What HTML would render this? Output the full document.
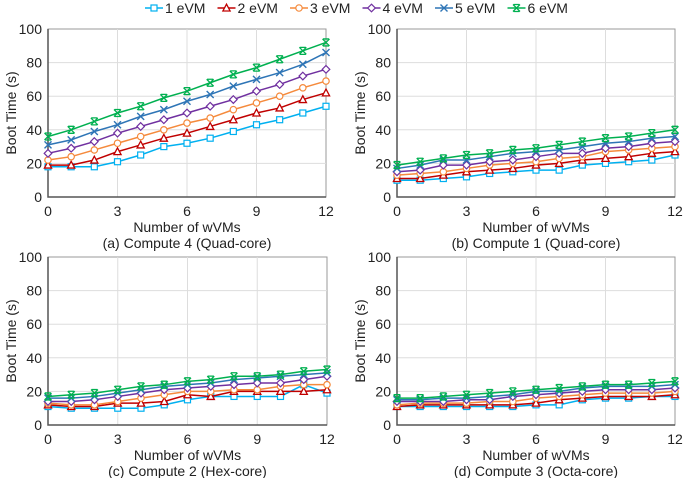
<!DOCTYPE html>
<html><head><meta charset="utf-8"><style>
body{margin:0;background:#fff;}
svg{display:block;font-family:"Liberation Sans",Arial,sans-serif;}
</style></head><body>
<svg id="c" width="685" height="478" viewBox="0 0 685 478"></svg>
<script>
const xCats=[0,1,2,3,4,5,6,7,8,9,10,11,12];
const xTicks=[0,3,6,9,12];
const yTicks=[0,20,40,60,80,100];
const seriesNames=["1 eVM","2 eVM","3 eVM","4 eVM","5 eVM","6 eVM"];
const panelTitles=["(a) Compute 4 (Quad-core)","(b) Compute 1 (Quad-core)","(c) Compute 2 (Hex-core)","(d) Compute 3 (Octa-core)"];
const panelA=[
[18,18,18,21,25,30,32,35,39,43,46,50,54],
[19,19,22,27,31,35,38,42,46,50,53,58,62],
[22,24,28,32,36,40,44,47,52,56,60,65,69],
[26,29,33,38,42,46,50,54,58,63,67,72,76],
[31,34,39,43,48,52,57,61,66,70,74,79,86],
[36,40,45,50,54,59,63,68,73,77,82,87,92]];
const panelB=[
[10,10,11,12,14,15,16,16,19,20,21,22,25],
[11,11,13,15,16,17,19,20,22,23,24,26,27],
[13,14,15,17,19,20,21,23,24,27,28,29,30],
[15,16,19,19,21,22,24,26,26,29,30,32,33],
[17,19,22,22,24,26,27,28,30,32,33,35,36],
[19,21,23,25,26,28,29,31,33,35,36,38,40]];
const panelC=[
[11,10,10,10,10,12,15,17,17,17,17,24,19],
[12,11,11,13,13,14,18,17,20,20,20,20,21],
[13,12,12,14,16,18,20,20,21,21,23,24,24],
[14,14,15,17,19,21,22,23,24,25,25,27,29],
[16,16,17,19,21,23,24,25,27,28,29,30,31],
[17,18,19,21,23,24,26,27,29,29,30,32,33]];
const panelD=[
[11,11,11,11,11,11,12,12,15,16,16,17,17],
[11,12,12,12,12,12,13,15,16,17,17,17,18],
[12,13,13,13,14,14,16,17,18,19,19,19,20],
[14,14,14,15,15,17,18,19,20,21,21,21,22],
[15,15,16,16,17,18,20,20,22,23,23,23,24],
[16,16,17,18,19,20,21,22,23,24,24,25,26]];
const panelData=[panelA,panelB,panelC,panelD];
const colors=["#00b0f0","#c00000","#f58a3c","#7030a0","#2e75b6","#00b050"];
const layout=[{x0:48,x1:326,yTop:29,yBot:197},{x0:397,x1:675,yTop:29,yBot:197},
{x0:48,x1:327,yTop:257,yBot:425},{x0:397,x1:675,yTop:257,yBot:425}];
const NS="http://www.w3.org/2000/svg";
const svg=document.getElementById('c');
function mk(tag,attrs,parent){const e=document.createElementNS(NS,tag);for(const k in attrs)e.setAttribute(k,attrs[k]);(parent||svg).appendChild(e);return e;}
function marker(g,i,x,y,c){
  let e;
  if(i===0){e=mk('rect',{x:x-3,y:y-3,width:6,height:6,fill:'#fff',stroke:c,'stroke-width':1.2},g);}
  else if(i===1){e=mk('polygon',{points:`${x},${y-3.8} ${x-3.6},${y+3} ${x+3.6},${y+3}`,fill:'#fff',stroke:c,'stroke-width':1.3},g);}
  else if(i===2){e=mk('circle',{cx:x,cy:y,r:3.2,fill:'#fff',stroke:c,'stroke-width':1.2},g);}
  else if(i===3){e=mk('polygon',{points:`${x},${y-3.8} ${x+3.8},${y} ${x},${y+3.8} ${x-3.8},${y}`,fill:'#fff',stroke:c,'stroke-width':1.2},g);}
  else if(i===4){e=mk('path',{d:`M${x-3.5} ${y-3.5}L${x+3.5} ${y+3.5}M${x+3.5} ${y-3.5}L${x-3.5} ${y+3.5}`,stroke:c,'stroke-width':1.4,fill:'none'},g);}
  else {e=mk('path',{d:`M${x-3.5} ${y-3.5}L${x+3.5} ${y+3.5}M${x+3.5} ${y-3.5}L${x-3.5} ${y+3.5}M${x-3} ${y-3.5}L${x+3} ${y-3.5}M${x-3} ${y+3.5}L${x+3} ${y+3.5}`,stroke:c,'stroke-width':1.3,fill:'none'},g);}
  
  
}
layout.forEach((L,p)=>{
  const g=mk('g',{});
  
  
  const sx=v=>L.x0+(v-0)/12*(L.x1-L.x0);
  const sy=v=>L.yBot-(v/100)*(L.yBot-L.yTop);
  const bg=mk('rect',{x:L.x0,y:L.yTop,width:L.x1-L.x0,height:L.yBot-L.yTop,fill:'#fff',stroke:'#999','stroke-width':1},g);
  
  
  yTicks.forEach(t=>{
    if(t>0&&t<100){const l=mk('line',{x1:L.x0,x2:L.x1,y1:sy(t),y2:sy(t),stroke:'#ddd','stroke-width':1},g);
    }
    const tx=mk('text',{x:L.x0-6,y:sy(t)+5,'text-anchor':'end','font-size':14,fill:'#222'},g);tx.textContent=t;
    
  });
  xTicks.forEach(t=>{
    if(t>0&&t<12){const l=mk('line',{x1:sx(t),x2:sx(t),y1:L.yTop,y2:L.yBot,stroke:'#ddd','stroke-width':1},g);
    }
    const tx=mk('text',{x:sx(t),y:L.yBot+19,'text-anchor':'middle','font-size':14,fill:'#222'},g);tx.textContent=t;
    
  });
  const ax=mk('path',{d:`M${L.x0} ${L.yTop}V${L.yBot}H${L.x1}`,stroke:'#555','stroke-width':1.5,fill:'none'},g);
  
  const yt=mk('text',{x:0,y:0,'text-anchor':'middle','font-size':14,fill:'#222',transform:`translate(${L.x0-32},${(L.yTop+L.yBot)/2}) rotate(-90)`},g);
  yt.textContent='Boot Time (s)';
  const xt=mk('text',{x:(L.x0+L.x1)/2,y:L.yBot+35,'text-anchor':'middle','font-size':14,fill:'#222'},g);
  xt.textContent='Number of wVMs';
  const ct=mk('text',{x:(L.x0+L.x1)/2,y:L.yBot+51,'text-anchor':'middle','font-size':14,fill:'#222'},g);
  ct.textContent=panelTitles[p];
  panelData[p].forEach((vals,i)=>{
    const sg=mk('g',{},g);
    
    const pl=mk('polyline',{points:vals.map((v,k)=>sx(xCats[k])+','+sy(v)).join(' '),fill:'none',stroke:colors[i],'stroke-width':1.5},sg);
    
    vals.forEach((v,k)=>marker(sg,i,sx(xCats[k]),sy(v),colors[i]));
  });
});
const lg=mk('g',{});

seriesNames.forEach((n,i)=>{
  const x=145+i*72.5,y=8;
  const eg=mk('g',{},lg);
  
  mk('line',{x1:x,x2:x+18,y1:y,y2:y,stroke:colors[i],'stroke-width':1.5},eg);
  marker(eg,i,x+9,y,colors[i]);
  const t=mk('text',{x:x+20,y:y+5,'font-size':14,fill:'#222'},eg);t.textContent=n;
});
</script>
</body></html>
